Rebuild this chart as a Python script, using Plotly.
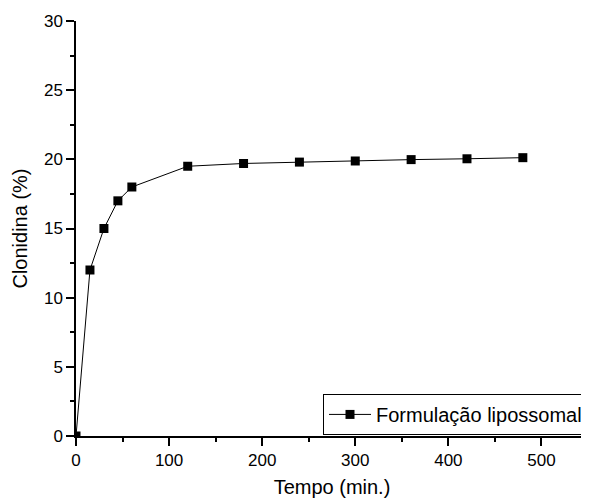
import plotly.graph_objects as go

tempo = [0, 15, 30, 45, 60, 120, 180, 240, 300, 360, 420, 480]
clonidina = [0, 12, 15, 17, 18, 19.5, 19.7, 19.8, 19.88, 19.98, 20.04, 20.12]
serie_nome = "Formulação lipossomal"

FONT = "Arial, Liberation Sans, sans-serif"

fig = go.Figure()
fig.add_trace(go.Scatter(
    x=tempo, y=clonidina, mode="lines+markers", name=serie_nome,
    line=dict(color="black", width=1),
    marker=dict(symbol="square", size=9, color="black"),
    cliponaxis=True,
))

axis_common = dict(
    showline=True, linecolor="black", linewidth=1.5,
    ticks="outside", ticklen=8, tickwidth=1.5, tickcolor="black",
    showgrid=False, zeroline=False, mirror=False, automargin=False,
    tickfont=dict(family=FONT, size=17, color="black"),
)

# page body has an 8px margin, so the figure is sized to fill the remaining window
fig.update_layout(
    width=581, height=491,
    margin=dict(l=68, r=1, t=13, b=63),
    paper_bgcolor="white", plot_bgcolor="white",
    font=dict(family=FONT, color="black"),
    xaxis=dict(range=[0, 550], dtick=100, tick0=0,
               minor=dict(ticks="outside", ticklen=4, dtick=50, tickcolor="black", tickwidth=1.5),
               title=dict(text="Tempo (min.)", font=dict(family=FONT, size=20), standoff=11),
               **axis_common),
    yaxis=dict(range=[0, 30], dtick=5, tick0=0,
               minor=dict(ticks="outside", ticklen=4, dtick=2.5, tickcolor="black", tickwidth=1.5),
               title=dict(text="Clonidina (%)", font=dict(family=FONT, size=20), standoff=11),
               **axis_common),
    showlegend=True,
    legend=dict(x=1, xanchor="right", y=0.052, yanchor="middle",
                bgcolor="white", bordercolor="black", borderwidth=1,
                font=dict(family=FONT, size=20), itemwidth=42,
                tracegroupgap=0),
)

fig.write_html("out.html")
